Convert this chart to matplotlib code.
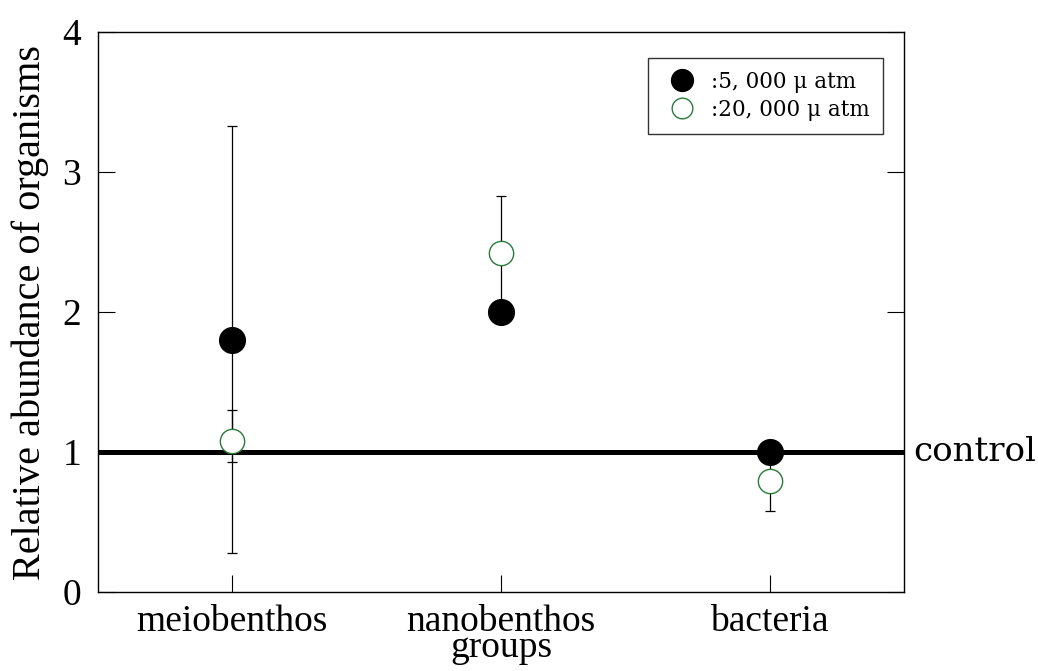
import matplotlib
matplotlib.use("Agg")
import matplotlib.pyplot as plt
import numpy as np

categories = ["meiobenthos", "nanobenthos", "bacteria"]
mean_5000 = [1.80, 2.00, 1.00]
err_5000_lo = [1.52, 0.00, 0.00]
err_5000_hi = [1.53, 0.00, 0.00]
mean_20000 = [1.08, 2.42, 0.79]
err_20000_lo = [0.15, 0.42, 0.21]
err_20000_hi = [0.22, 0.41, 0.21]
control_level = 1.0
yticks = [0, 1, 2, 3, 4]
label_5000 = ":5, 000 μ atm"
label_20000 = ":20, 000 μ atm"

serif = ["Liberation Serif", "DejaVu Serif"]
mincho = ["DejaVu Serif"]

fig = plt.figure(figsize=(10.38, 6.71), dpi=100)
ax = fig.add_axes([98/1038, 79/671, 806/1038, 560/671])

x = np.arange(1, len(categories) + 1)

ax.axhline(control_level, color="black", lw=3.6, zorder=2)

ax.errorbar(x, mean_5000, yerr=[err_5000_lo, err_5000_hi], fmt="none",
            ecolor="black", elinewidth=0.9, capsize=3.6, capthick=0.9, zorder=3)
ax.errorbar(x, mean_20000, yerr=[err_20000_lo, err_20000_hi], fmt="none",
            ecolor="black", elinewidth=0.9, capsize=3.6, capthick=0.9, zorder=3)

h1, = ax.plot(x, mean_5000, "o", ms=18.5, mfc="black", mec="black", ls="none", zorder=5)
h2, = ax.plot(x, mean_20000, "o", ms=17.5, mfc="white", mec="#2a7a3a", mew=1.0, ls="none", zorder=4)

ax.set_xlim(0.5, 3.5)
ax.set_ylim(0, 4)
ax.set_yticks(yticks)
ax.set_yticklabels([str(t) for t in yticks], family=serif, fontsize=27)
ax.set_xticks(x)
ax.set_xticklabels(categories, family=serif, fontsize=27)
ax.tick_params(axis="y", direction="in", length=12, width=0.8, right=True, pad=12)
ax.tick_params(axis="x", direction="in", length=12, width=0.8, pad=9)
for s in ax.spines.values():
    s.set_linewidth(1.0)

ax.set_ylabel("Relative abundance of organisms", family=serif, fontsize=29, labelpad=10)
ax.set_xlabel("groups", family=serif, fontsize=27, labelpad=-6)

ax.text(1.012, control_level, "control", transform=ax.get_yaxis_transform(),
        family=mincho, fontsize=24.5, va="center", ha="left", clip_on=False)

leg = ax.legend([h1, h2], [label_5000, label_20000], loc="upper right",
                bbox_to_anchor=(0.974, 0.9536), prop={"family": mincho, "size": 15.5},
                frameon=True, fancybox=False, edgecolor="black", borderpad=0.6,
                handletextpad=0.35, handlelength=2.0, labelspacing=0.28,
                borderaxespad=0, markerscale=0.85)
leg.get_frame().set_linewidth(1.0)

fig.savefig("out.png", dpi=100)
